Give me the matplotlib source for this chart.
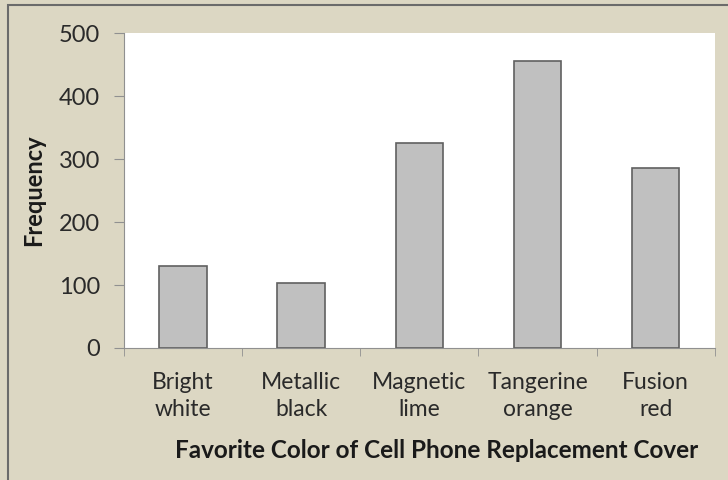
import matplotlib.pyplot as plt
from matplotlib.patches import Rectangle

categories = ['Bright\nwhite', 'Metallic\nblack', 'Magnetic\nlime', 'Tangerine\norange', 'Fusion\nred']
frequency = [130, 103, 325, 455, 286]
y_ticks = [0, 100, 200, 300, 400, 500]

plt.rcParams['font.family'] = ['Lato', 'DejaVu Sans']

bg = '#dcd7c3'
fig = plt.figure(figsize=(7.28, 4.8), dpi=100, facecolor=bg)
ax = fig.add_axes([0.170, 0.275, 0.812, 0.656])
ax.set_facecolor('white')

x = list(range(len(categories)))
ax.bar(x, frequency, width=0.4, color='#c0c0c0', edgecolor='#606060', linewidth=1.2, zorder=3)

ax.set_xlim(-0.5, len(categories) - 0.5)
ax.set_ylim(0, 500)
ax.set_yticks(y_ticks)
ax.set_yticklabels([str(v) for v in y_ticks], fontsize=17, color='#2a2a2a')
ax.set_xticks(x)
ax.set_xticklabels(categories, fontsize=16.5, color='#2a2a2a', linespacing=1.35)
ax.tick_params(axis='x', length=0, pad=17)
ax.tick_params(axis='y', length=7, color='#909090', pad=10)
# tick marks between categories
ax.set_xticks([i - 0.5 for i in range(len(categories) + 1)], minor=True)
ax.tick_params(axis='x', which='minor', length=6, color='#909090', direction='out')

for side in ['top', 'right']:
    ax.spines[side].set_visible(False)
for side in ['left', 'bottom']:
    ax.spines[side].set_color('#909090')

ax.set_ylabel('Frequency', fontsize=17, fontweight='bold', labelpad=10, color='#1a1a1a')
ax.set_xlabel('Favorite Color of Cell Phone Replacement Cover', fontsize=17.5, fontweight='bold',
              color='#1a1a1a')
ax.xaxis.set_label_coords(0.53, -0.29)

# outer chart border
fig.patches.append(Rectangle((0.011, -0.05), 1.1, 1.04, transform=fig.transFigure,
                             fill=False, edgecolor='#6b6b6b', linewidth=1.5))

plt.savefig('out.png', dpi=100, facecolor=bg)
